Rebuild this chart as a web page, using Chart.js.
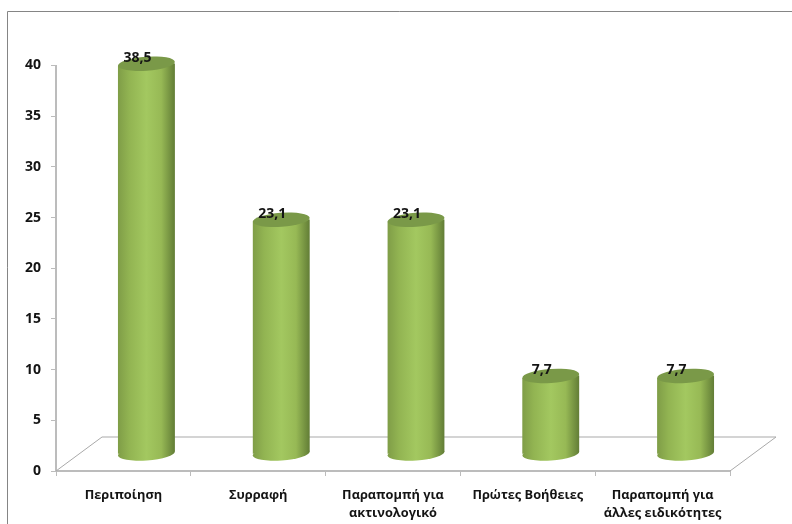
<!DOCTYPE html>
<html lang="el">
<head>
<meta charset="utf-8">
<title>Chart</title>
<style>
  html, body { margin: 0; padding: 0; background: #ffffff; }
  canvas { display: block; }
</style>
<script src="https://cdn.jsdelivr.net/npm/chart.js@4/dist/chart.umd.min.js"></script>
</head>
<body>
<canvas id="CylinderChart" width="792" height="524"></canvas>
<script>
(function () {
  "use strict";

  const categories = [
    'Περιποίηση',
    'Συρραφή',
    ['Παραπομπή για', 'ακτινολογικό'],
    'Πρώτες Βοήθειες',
    ['Παραπομπή για', 'άλλες ειδικότητες']
  ];
  const values = [38.5, 23.1, 23.1, 7.7, 7.7];
  const valueLabels = ['38,5', '23,1', '23,1', '7,7', '7,7'];

  const font_family = '"Open Sans", "Noto Sans", sans-serif';
  const axis_color = '#bcbcbc';
  const floor_color = '#a9a9a9';
  const frame_color = '#858585';
  const text_color = '#141414';

  // how far the cylinders sit back on the floor
  const bar_shift = { x: 23, y: -17 };
  const floor_depth = { x: 46, y: -34 };
  const cap_height = 7;
  const cap_tilt = -0.07;

  function bodyGradient(ctx, left, right) {
    const g = ctx.createLinearGradient(left, 0, right, 0);
    g.addColorStop(0, '#7f9d47');
    g.addColorStop(0.2, '#92b452');
    g.addColorStop(0.5, '#a3c860');
    g.addColorStop(0.76, '#97b955');
    g.addColorStop(1, '#627d36');
    return g;
  }

  function ellipse(ctx, bar, y, fill) {
    ctx.beginPath();
    ctx.ellipse(bar.x, y, bar.width / 2, cap_height, cap_tilt, 0, Math.PI * 2);
    ctx.fillStyle = fill;
    ctx.fill();
  }

  const frame = {
    id: 'frame',
    beforeDraw(chart) {
      const ctx = chart.ctx;
      ctx.save();
      ctx.strokeStyle = frame_color;
      ctx.lineWidth = 1;
      ctx.beginPath();
      ctx.moveTo(7.5, chart.height);
      ctx.lineTo(7.5, 11.5);
      ctx.lineTo(chart.width, 11.5);
      ctx.stroke();
      ctx.restore();
    }
  };

  const floor = {
    id: 'floor',
    beforeDatasetsDraw(chart) {
      const ctx = chart.ctx;
      const a = chart.chartArea;
      ctx.save();
      ctx.strokeStyle = floor_color;
      ctx.lineWidth = 1;
      ctx.beginPath();
      ctx.moveTo(a.left, a.bottom);
      ctx.lineTo(a.left + floor_depth.x, a.bottom + floor_depth.y);
      ctx.lineTo(a.right + floor_depth.x, a.bottom + floor_depth.y);
      ctx.lineTo(a.right, a.bottom);
      ctx.stroke();
      ctx.restore();
    }
  };

  // the bars themselves are drawn by Chart.js, this adds the round caps
  const cylinders = {
    id: 'cylinders',
    beforeDatasetDraw(chart, args) {
      const ctx = chart.ctx;
      const bars = args.meta.data;
      ctx.save();
      ctx.translate(bar_shift.x, bar_shift.y);
      bars.forEach((bar) => {
        const left = bar.x - bar.width / 2;
        ellipse(ctx, bar, bar.base, bodyGradient(ctx, left, left + bar.width));
      });
      // slanted clip so the square bar corners stay inside the caps
      const slope = Math.tan(cap_tilt);
      ctx.beginPath();
      bars.forEach((bar) => {
        const half = bar.width / 2;
        ctx.moveTo(bar.x - half, bar.y - slope * half);
        ctx.lineTo(bar.x + half, bar.y + slope * half);
        ctx.lineTo(bar.x + half, bar.base + slope * half);
        ctx.lineTo(bar.x - half, bar.base - slope * half);
        ctx.closePath();
      });
      ctx.clip();
    },
    afterDatasetDraw(chart, args) {
      const ctx = chart.ctx;
      ctx.restore();
      ctx.save();
      ctx.translate(bar_shift.x, bar_shift.y);
      args.meta.data.forEach((bar) => {
        ellipse(ctx, bar, bar.y, '#7a9948');
      });
      ctx.restore();
    },
    afterDatasetsDraw(chart) {
      const ctx = chart.ctx;
      ctx.save();
      ctx.font = 'bold 14px ' + font_family;
      ctx.fillStyle = text_color;
      ctx.textAlign = 'center';
      ctx.textBaseline = 'middle';
      chart.getDatasetMeta(0).data.forEach((bar, i) => {
        ctx.fillText(valueLabels[i], bar.x + 14, bar.y - 23);
      });
      ctx.restore();
    }
  };

  new Chart(document.getElementById('CylinderChart'), {
    type: 'bar',
    data: {
      labels: categories,
      datasets: [{
        data: values,
        barThickness: 57,
        borderWidth: 0,
        backgroundColor(context) {
          const chart = context.chart;
          if (context.dataIndex === undefined || !chart.chartArea) {
            return '#93b553';
          }
          const x = chart.scales.x.getPixelForValue(context.dataIndex);
          return bodyGradient(chart.ctx, x - 28.5, x + 28.5);
        }
      }]
    },
    options: {
      responsive: false,
      animation: false,
      layout: { padding: { top: 65.5, right: 62, left: 0, bottom: 0 } },
      plugins: {
        legend: { display: false },
        tooltip: { enabled: false }
      },
      scales: {
        x: {
          afterFit(scale) { scale.height = 53; },
          grid: {
            drawOnChartArea: false,
            color: axis_color,
            tickLength: 5
          },
          border: { color: axis_color, width: 2 },
          ticks: {
            color: text_color,
            padding: 10,
            maxRotation: 0,
            autoSkip: false,
            font: { family: font_family, size: 12.8, weight: 'bold', lineHeight: 1.4 }
          }
        },
        y: {
          min: 0,
          max: 40,
          afterFit(scale) { scale.width = 56; },
          grid: {
            drawOnChartArea: false,
            color: axis_color,
            tickLength: 5
          },
          border: { color: axis_color, width: 2 },
          ticks: {
            stepSize: 5,
            color: text_color,
            padding: 10,
            font: { family: font_family, size: 14, weight: 'bold' }
          }
        }
      }
    },
    plugins: [frame, floor, cylinders]
  });
})();
</script>
</body>
</html>
